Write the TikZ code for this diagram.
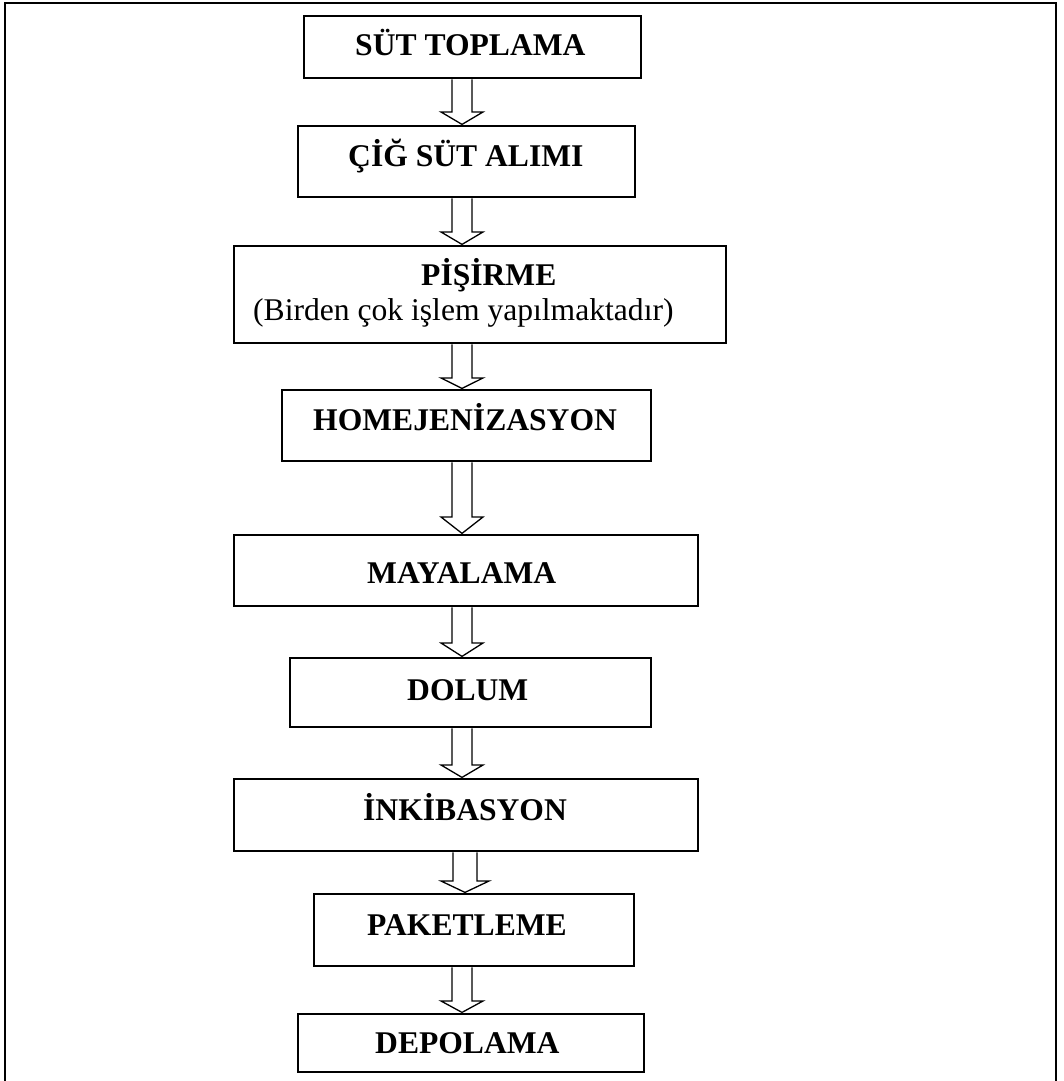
\documentclass[tikz,border=0pt]{standalone}
\usepackage{fontspec}
\setmainfont{Liberation Serif}
\usetikzlibrary{calc}

% process step box, label text and hollow block arrow
\tikzset{
  stepbox/.style={draw, line width=1.6pt, inner sep=0pt, anchor=north west},
  steptext/.style={font=\fontsize{31.6}{36}\selectfont\bfseries, anchor=base west, inner sep=0pt},
  notetext/.style={font=\fontsize{31.6}{36}\selectfont, anchor=base west, inner sep=0pt},
  blockarrow/.style={draw, line width=1.3pt, fill=white, line join=miter},
  frameline/.style={line width=1.8pt},
}

% #1 source node, #2 target node, #3 centre x, #4 head height,
% #5 half shaft width, #6 half head width
\newcommand\flowarrow[6]{%
  \path let \p1=(#1.south), \p2=(#2.north) in
    [blockarrow]
    ({(#3-#5)*1pt},{\y1-0.8pt}) -- ({(#3-#5)*1pt},{\y2+#4*1pt})
    -- ({(#3-#6)*1pt},{\y2+#4*1pt}) -- ({#3*1pt},{\y2+0.6pt})
    -- ({(#3+#6)*1pt},{\y2+#4*1pt}) -- ({(#3+#5)*1pt},{\y2+#4*1pt})
    -- ({(#3+#5)*1pt},{\y1-0.8pt});
}

\begin{document}
\begin{tikzpicture}[x=1pt, y=-1pt]
  \useasboundingbox (0,0) rectangle (1064,1081);

  % open frame around the chart
  \draw[frameline] (5,1081) -- (5,3) -- (1056,3) -- (1056,1081);

  % step boxes
  \node[stepbox, minimum width=337pt, minimum height=62pt] (b1) at (303,15) {};
  \node[stepbox, minimum width=337pt, minimum height=71pt] (b2) at (297,125) {};
  \node[stepbox, minimum width=492pt, minimum height=97pt] (b3) at (233,245) {};
  \node[stepbox, minimum width=369pt, minimum height=71pt] (b4) at (281,389) {};
  \node[stepbox, minimum width=464pt, minimum height=71pt] (b5) at (233,534) {};
  \node[stepbox, minimum width=361pt, minimum height=69pt] (b6) at (289,657) {};
  \node[stepbox, minimum width=464pt, minimum height=72pt] (b7) at (233,778) {};
  \node[stepbox, minimum width=320pt, minimum height=72pt] (b8) at (313,893) {};
  \node[stepbox, minimum width=346pt, minimum height=58pt] (b9) at (297,1013) {};

  % step labels
  \node[steptext] (t1) at (355,56) {SÜT TOPLAMA};
  \node[steptext] (t2) at (348,166) {ÇİĞ SÜT ALIMI};
  \node[steptext] (t3) at (421,285) {PİŞİRME};
  \node[notetext] (t3b) at (253,320) {(Birden çok işlem yapılmaktadır)};
  \node[steptext] (t4) at (313,430) {HOMEJENİZASYON};
  \node[steptext] (t5) at (367,583) {MAYALAMA};
  \node[steptext] (t6) at (407,700) {DOLUM};
  \node[steptext] (t7) at (363,820) {İNKİBASYON};
  \node[steptext] (t8) at (367,935) {PAKETLEME};
  \node[steptext] (t9) at (375,1053) {DEPOLAMA};

  % flow arrows
  \flowarrow{b1}{b2}{462}{13}{10}{21}
  \flowarrow{b2}{b3}{462}{13}{10}{21}
  \flowarrow{b3}{b4}{462}{11}{10}{21}
  \flowarrow{b4}{b5}{462}{17}{10}{21}
  \flowarrow{b5}{b6}{462}{14}{10}{21}
  \flowarrow{b6}{b7}{462}{13}{10}{21}
  \flowarrow{b7}{b8}{465}{12}{12}{24}
  \flowarrow{b8}{b9}{462}{12}{10}{21}
\end{tikzpicture}
\end{document}
